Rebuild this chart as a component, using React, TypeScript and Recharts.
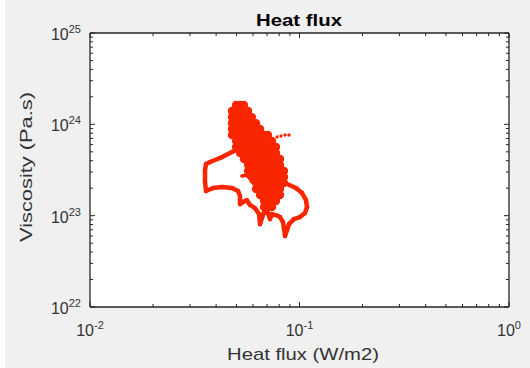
import { ScatterChart, Scatter, XAxis, YAxis, CartesianGrid } from "recharts"

// trajectory loop (left and lower-right excursions), x = heat flux W/m2, y = viscosity Pa.s
const loopX = [
  0.0853, 0.0962, 0.1028, 0.1074, 0.1086, 0.1062, 0.1005, 0.0941, 0.0891, 0.0872,
  0.0853, 0.0843, 0.0834, 0.0807, 0.0772, 0.0739, 0.0723, 0.0707, 0.0677, 0.0662,
  0.0648, 0.0641, 0.0613, 0.058, 0.0561, 0.0537, 0.052, 0.052, 0.0509, 0.0476,
  0.0427, 0.0387, 0.0358, 0.0354, 0.0354, 0.0358, 0.0374, 0.0427, 0.0476, 0.0509,
]
const loopY = [
  2.28e23, 2.01e23, 1.77e23, 1.48e23, 1.24e23, 1.07e23, 9.65e22, 9.18e22, 8.09e22, 6.96e22,
  5.98e22, 7.31e22, 8.51e22, 9.65e22, 1.015e23, 1.04e23, 9.18e22, 1.07e23, 1.095e23, 9.41e22,
  8.09e22, 1.04e23, 1.21e23, 1.31e23, 1.48e23, 1.41e23, 1.34e23, 1.64e23, 1.86e23, 2.01e23,
  2.06e23, 2.01e23, 1.86e23, 2.33e23, 3.16e23, 3.67e23, 3.87e23, 4.38e23, 4.97e23, 5.36e23,
]

// short branch on the left side of the cloud
const branchX = [0.0531, 0.0555, 0.058, 0.0593]
const branchY = [2.72e23, 2.78e23, 2.58e23, 2.33e23]

// dotted tail to the right
const tailX = [0.0781, 0.0816, 0.0853, 0.0891]
const tailY = [7.26e23, 7.44e23, 7.64e23, 7.64e23]

// dense cloud, one row per viscosity level
const cloudY = [
  1.63e24, 1.4e24, 1.2e24, 1.03e24, 8.89e23, 7.64e23, 6.57e23, 5.64e23, 4.85e23,
  4.17e23, 3.58e23, 3.08e23, 2.65e23, 2.28e23, 1.96e23, 1.68e23, 1.45e23, 1.24e23,
]
const cloudX = [
  [0.0498, 0.052, 0.0543],
  [0.0476, 0.0498, 0.052, 0.0543, 0.0568],
  [0.0476, 0.0498, 0.052, 0.0543, 0.0568, 0.0593],
  [0.0476, 0.0498, 0.052, 0.0543, 0.0568, 0.0593, 0.062],
  [0.0476, 0.0498, 0.052, 0.0543, 0.0568, 0.0593, 0.062, 0.0648],
  [0.0476, 0.0498, 0.052, 0.0543, 0.0568, 0.0593, 0.062, 0.0648, 0.0677, 0.0707],
  [0.0498, 0.052, 0.0543, 0.0568, 0.0593, 0.062, 0.0648, 0.0677, 0.0707, 0.0739],
  [0.0498, 0.052, 0.0543, 0.0568, 0.0593, 0.062, 0.0648, 0.0677, 0.0707, 0.0739, 0.0772],
  [0.052, 0.0543, 0.0568, 0.0593, 0.062, 0.0648, 0.0677, 0.0707, 0.0739, 0.0772],
  [0.0543, 0.0568, 0.0593, 0.062, 0.0648, 0.0677, 0.0707, 0.0739, 0.0772, 0.0807],
  [0.0568, 0.0593, 0.062, 0.0648, 0.0677, 0.0707, 0.0739, 0.0772, 0.0807],
  [0.0568, 0.0593, 0.062, 0.0648, 0.0677, 0.0707, 0.0739, 0.0772, 0.0807, 0.0843],
  [0.0593, 0.062, 0.0648, 0.0677, 0.0707, 0.0739, 0.0772, 0.0807, 0.0843],
  [0.062, 0.0648, 0.0677, 0.0707, 0.0739, 0.0772, 0.0807, 0.0843],
  [0.062, 0.0648, 0.0677, 0.0707, 0.0739, 0.0772, 0.0807],
  [0.0648, 0.0677, 0.0707, 0.0739, 0.0772, 0.0807],
  [0.0677, 0.0707, 0.0739, 0.0772],
  [0.0677, 0.0707, 0.0739],
]

const xTicks = [
  0.01, 0.02, 0.03, 0.04, 0.05, 0.06, 0.07, 0.08, 0.09,
  0.1, 0.2, 0.3, 0.4, 0.5, 0.6, 0.7, 0.8, 0.9, 1,
]
const yTicks = [
  1e22, 2e22, 3e22, 4e22, 5e22, 6e22, 7e22, 8e22, 9e22,
  1e23, 2e23, 3e23, 4e23, 5e23, 6e23, 7e23, 8e23, 9e23,
  1e24, 2e24, 3e24, 4e24, 5e24, 6e24, 7e24, 8e24, 9e24, 1e25,
]

const RED = "#fa2600"
const AXIS = "#262626"
const FONT = "'Liberation Sans', Arial, Helvetica, sans-serif"

const pairs = (xs: number[], ys: number[]) => xs.map((x, i) => ({ x, y: ys[i] }))
const loopPts = pairs(loopX, loopY)
const branchPts = pairs(branchX, branchY)
const tailPts = pairs(tailX, tailY)
const cloudPts = cloudY.flatMap((y, i) => cloudX[i].map((x) => ({ x, y })))

const exponent = (v: number) => Math.round(Math.log10(v))
const isMajor = (v: number) => Math.abs(Math.log10(v) - exponent(v)) < 1e-6

const dot = (r: number) => (p: any) => <circle cx={p.cx} cy={p.cy} r={r} fill={RED} />
const nothing = () => <g />

function XTick(props: any) {
  const { x, y, payload, side } = props
  const major = isMajor(payload.value)
  const len = major ? 5 : 3
  const dir = side === "bottom" ? -1 : 1
  return (
    <g>
      <line x1={x} x2={x} y1={y} y2={y + dir * len} stroke={AXIS} strokeWidth={1} />
      {major && side === "bottom" && (
        <text x={x} y={y + 29} textAnchor="middle" fontSize={16} fill="#333" fontFamily={FONT}>
          10<tspan dy={-7} fontSize={11}>{exponent(payload.value)}</tspan>
        </text>
      )}
    </g>
  )
}

function YTick(props: any) {
  const { x, y, payload, side } = props
  const major = isMajor(payload.value)
  const len = major ? 5 : 3
  const dir = side === "left" ? 1 : -1
  return (
    <g>
      <line x1={x} x2={x + dir * len} y1={y} y2={y} stroke={AXIS} strokeWidth={1} />
      {major && side === "left" && (
        <text x={x - 9} y={y + 7} textAnchor="end" fontSize={16} fill="#333" fontFamily={FONT}>
          10<tspan dy={-7} fontSize={11}>{exponent(payload.value)}</tspan>
        </text>
      )}
    </g>
  )
}

const axisCommon = {
  type: "number" as const,
  scale: "log" as const,
  allowDataOverflow: true,
  interval: 0 as const,
  tickSize: 0,
  tickMargin: 0,
  axisLine: { stroke: AXIS, strokeWidth: 1.3 },
  tickLine: false,
}

export default function App() {
  return (
    <div style={{ position: "absolute", left: 0, top: 0, width: 530, height: 368, background: "#fff" }}>
      <div style={{ position: "absolute", left: 5, top: 0, width: 525, height: 368, background: "#f0f0f0" }} />
      <div style={{ position: "absolute", left: 0, top: 0 }}>
        <ScatterChart width={530} height={368} margin={{ top: 32, right: 20, bottom: 0, left: 0 }}>
          <CartesianGrid horizontal={false} vertical={false} fill="#ffffff" />
          <XAxis
            {...axisCommon}
            dataKey="x"
            domain={[0.01, 1]}
            ticks={xTicks}
            height={61}
            tick={(p: any) => <XTick {...p} side="bottom" />}
          />
          <XAxis
            {...axisCommon}
            xAxisId="top"
            orientation="top"
            dataKey="x"
            domain={[0.01, 1]}
            ticks={xTicks}
            height={1}
            tick={(p: any) => <XTick {...p} side="top" />}
          />
          <YAxis
            {...axisCommon}
            dataKey="y"
            domain={[1e22, 1e25]}
            ticks={yTicks}
            width={90}
            tick={(p: any) => <YTick {...p} side="left" />}
          />
          <YAxis
            {...axisCommon}
            yAxisId="right"
            orientation="right"
            dataKey="y"
            domain={[1e22, 1e25]}
            ticks={yTicks}
            width={1}
            tick={(p: any) => <YTick {...p} side="right" />}
          />
          <Scatter
            data={loopPts}
            fill={RED}
            line={{ stroke: RED, strokeWidth: 4.5, strokeLinejoin: "round" }}
            shape={dot(2.2)}
            isAnimationActive={false}
          />
          <Scatter
            data={branchPts}
            fill={RED}
            line={{ stroke: RED, strokeWidth: 3.5, strokeLinejoin: "round" }}
            shape={dot(1.8)}
            isAnimationActive={false}
          />
          <Scatter data={tailPts} fill={RED} shape={dot(1.7)} isAnimationActive={false} />
          <Scatter data={cloudPts} fill={RED} shape={dot(4.2)} isAnimationActive={false} />
          <Scatter
            data={tailPts}
            xAxisId="top"
            yAxisId="right"
            shape={nothing}
            isAnimationActive={false}
          />
        </ScatterChart>
      </div>
      <svg width={530} height={368} style={{ position: "absolute", left: 0, top: 0, pointerEvents: "none" }}>
        <text x={299} y={26} textAnchor="middle" fontSize={17} fontWeight="bold" fill="#000"
          fontFamily={FONT} textLength={86} lengthAdjust="spacingAndGlyphs">
          Heat flux
        </text>
        <text x={303} y={360} textAnchor="middle" fontSize={17} fill="#333"
          fontFamily={FONT} textLength={152} lengthAdjust="spacingAndGlyphs">
          Heat flux (W/m2)
        </text>
        <text x={32} y={167} textAnchor="middle" fontSize={17} fill="#333" transform="rotate(-90 32 167)"
          fontFamily={FONT} textLength={150} lengthAdjust="spacingAndGlyphs">
          Viscosity (Pa.s)
        </text>
      </svg>
    </div>
  )
}
